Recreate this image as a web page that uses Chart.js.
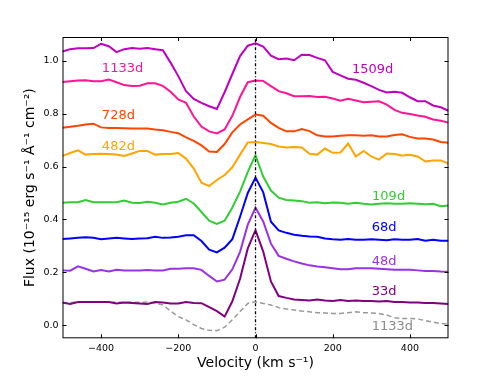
<!DOCTYPE html>
<html>
<head>
    <title>Line profiles</title>
    <script src="https://cdn.jsdelivr.net/npm/chart.js"></script>
    <style>
        body {
            margin: 0;
            background-color: #fff;
        }
        #box {
            width: 498px;
            height: 377px;
        }
    </style>
</head>
<body>
    <div id="box"><canvas id="lineChart" width="498" height="377"></canvas></div>

    <script>
        // velocity grid (km/s)
        var velocity = [-500,-480,-460,-440,-420,-400,-380,-360,-340,-320,-300,-280,-260,-240,-220,-200,-180,-160,-140,-120,-100,-80,-60,-40,-20,0,20,40,60,80,100,120,140,160,180,200,220,240,260,280,300,320,340,360,380,400,420,440,460,480,500];

        // flux of each epoch (offset spectra)
        var flux1509 = [1.035,1.044,1.047,1.047,1.048,1.064,1.055,1.033,1.044,1.048,1.046,1.048,1.044,1.040,0.993,0.942,0.885,0.856,0.841,0.828,0.818,0.881,0.950,1.018,1.057,1.066,1.054,1.019,1.006,1.009,1.002,1.023,1.022,1.011,1.002,0.958,0.945,0.932,0.928,0.917,0.904,0.890,0.880,0.883,0.879,0.862,0.847,0.847,0.831,0.824,0.811];
        var flux1133 = [0.920,0.923,0.925,0.926,0.923,0.923,0.929,0.919,0.908,0.905,0.906,0.915,0.915,0.905,0.883,0.854,0.841,0.789,0.751,0.733,0.725,0.740,0.792,0.863,0.919,0.925,0.924,0.904,0.885,0.877,0.866,0.866,0.867,0.863,0.864,0.857,0.849,0.856,0.850,0.843,0.845,0.847,0.834,0.814,0.803,0.799,0.793,0.788,0.778,0.773,0.766];
        var flux728 = [0.747,0.750,0.754,0.759,0.762,0.748,0.746,0.746,0.745,0.744,0.744,0.744,0.740,0.737,0.731,0.726,0.710,0.697,0.680,0.657,0.655,0.685,0.729,0.759,0.778,0.797,0.792,0.765,0.746,0.733,0.733,0.742,0.734,0.718,0.714,0.714,0.716,0.718,0.718,0.716,0.718,0.714,0.714,0.719,0.722,0.712,0.706,0.706,0.702,0.693,0.690];
        var flux482 = [0.640,0.651,0.661,0.645,0.647,0.648,0.647,0.645,0.640,0.649,0.659,0.659,0.645,0.647,0.647,0.651,0.630,0.592,0.539,0.526,0.549,0.568,0.597,0.645,0.691,0.693,0.689,0.685,0.676,0.672,0.674,0.672,0.648,0.645,0.668,0.652,0.653,0.687,0.638,0.659,0.638,0.626,0.649,0.647,0.642,0.644,0.638,0.619,0.623,0.623,0.611];
        var flux109 = [0.463,0.465,0.465,0.473,0.465,0.465,0.465,0.465,0.471,0.463,0.462,0.467,0.463,0.456,0.463,0.467,0.478,0.460,0.428,0.395,0.383,0.395,0.445,0.505,0.580,0.642,0.562,0.509,0.482,0.473,0.471,0.469,0.463,0.465,0.461,0.464,0.463,0.459,0.463,0.459,0.456,0.459,0.461,0.459,0.459,0.461,0.459,0.457,0.459,0.450,0.452];
        var flux68 = [0.326,0.328,0.330,0.332,0.330,0.325,0.328,0.330,0.328,0.326,0.328,0.329,0.334,0.330,0.331,0.334,0.340,0.340,0.318,0.285,0.275,0.293,0.325,0.410,0.500,0.558,0.502,0.391,0.358,0.349,0.342,0.338,0.335,0.334,0.328,0.325,0.323,0.326,0.323,0.323,0.325,0.323,0.321,0.325,0.323,0.323,0.326,0.319,0.323,0.319,0.319];
        var flux48 = [0.207,0.206,0.222,0.213,0.203,0.208,0.203,0.209,0.207,0.207,0.207,0.208,0.207,0.207,0.213,0.213,0.215,0.215,0.209,0.186,0.165,0.172,0.211,0.277,0.380,0.444,0.392,0.308,0.262,0.251,0.241,0.233,0.226,0.222,0.219,0.215,0.211,0.211,0.215,0.215,0.215,0.213,0.211,0.209,0.209,0.209,0.207,0.205,0.205,0.203,0.202];
        var flux33 = [0.085,0.080,0.087,0.087,0.087,0.087,0.087,0.082,0.085,0.084,0.082,0.080,0.087,0.085,0.082,0.082,0.087,0.084,0.083,0.068,0.053,0.032,0.090,0.175,0.290,0.359,0.278,0.165,0.110,0.103,0.097,0.095,0.093,0.097,0.093,0.091,0.095,0.091,0.093,0.091,0.091,0.089,0.091,0.087,0.087,0.085,0.085,0.084,0.084,0.082,0.080];
        // 1133d profile scaled, plotted under the 33d one
        var flux1133b = [0.085,0.085,0.087,0.087,0.086,0.087,0.087,0.086,0.086,0.087,0.086,0.087,0.084,0.076,0.053,0.032,0.020,0.002,-0.013,-0.020,-0.021,-0.008,0.020,0.051,0.082,0.088,0.082,0.076,0.066,0.061,0.057,0.053,0.050,0.047,0.046,0.044,0.044,0.047,0.050,0.047,0.046,0.044,0.038,0.028,0.025,0.025,0.023,0.017,0.011,0.006,0.003];

        // epoch labels: text, velocity of left edge, flux of centre
        var labelText = ['1509d', '1133d', '728d', '482d', '109d', '68d', '48d', '33d', '1133d'];
        var labelVel = [250, -398, -398, -398, 302, 301, 301, 301, 301];
        var labelFlux = [0.968, 0.972, 0.791, 0.677, 0.487, 0.367, 0.240, 0.126, -0.006];
        var labelColor = ['#bf00bf', '#ff1493', '#ff4500', '#ffa500', '#32cd32', '#0000ff', '#9932e6', '#800080', '#8c8c8c'];

        var xTicks = [-400, -200, 0, 200, 400];
        var yTicks = [0.0, 0.2, 0.4, 0.6, 0.8, 1.0];
        var xMin = -500, xMax = 500, yMin = -0.05, yMax = 1.09;

        var FONT = "'DejaVu Sans', sans-serif";

        function pts(arr) {
            return velocity.map(function (v, i) { return { x: v, y: arr[i] }; });
        }

        function series(arr, color) {
            return {
                data: pts(arr),
                borderColor: color,
                borderWidth: 2,
                pointRadius: 0,
                fill: false,
                tension: 0
            };
        }

        var grey = series(flux1133b, '#999999');
        grey.borderWidth = 1.5;
        grey.borderDash = [5, 3];

        var datasets = [
            {
                // rest velocity marker
                data: [{ x: 0, y: yMin }, { x: 0, y: yMax }],
                borderColor: '#000',
                borderWidth: 1.3,
                borderDash: [3, 2, 1, 2],
                pointRadius: 0
            },
            series(flux33, '#800080'),
            series(flux48, '#9932e6'),
            series(flux68, '#0000ff'),
            series(flux109, '#32cd32'),
            series(flux482, '#ffa500'),
            series(flux728, '#ff4500'),
            series(flux1133, '#ff1493'),
            series(flux1509, '#bf00bf'),
            grey
        ];

        function fmtX(v) {
            return v < 0 ? '\u2212' + Math.abs(v) : String(v);
        }

        // frame, inward ticks on all sides and the epoch labels
        var decorPlugin = {
            id: 'decor',
            afterDraw: function (chart) {
                var ctx = chart.ctx;
                var a = chart.chartArea;
                var xs = chart.scales.x, ys = chart.scales.y;
                var t = 4;
                ctx.save();
                ctx.strokeStyle = '#000';
                ctx.lineWidth = 1;
                ctx.strokeRect(a.left + 0.5, a.top + 0.5, a.right - a.left - 1, a.bottom - a.top - 1);
                ctx.beginPath();
                xTicks.forEach(function (v) {
                    var px = Math.round(xs.getPixelForValue(v)) + 0.5;
                    ctx.moveTo(px, a.bottom); ctx.lineTo(px, a.bottom - t);
                    ctx.moveTo(px, a.top); ctx.lineTo(px, a.top + t);
                });
                yTicks.forEach(function (v) {
                    var py = Math.round(ys.getPixelForValue(v)) + 0.5;
                    ctx.moveTo(a.left, py); ctx.lineTo(a.left + t, py);
                    ctx.moveTo(a.right, py); ctx.lineTo(a.right - t, py);
                });
                ctx.stroke();

                ctx.font = '13px ' + FONT;
                ctx.textAlign = 'left';
                ctx.textBaseline = 'middle';
                for (var i = 0; i < labelText.length; i++) {
                    ctx.fillStyle = labelColor[i];
                    ctx.fillText(labelText[i], xs.getPixelForValue(labelVel[i]), ys.getPixelForValue(labelFlux[i]));
                }
                ctx.restore();
            }
        };

        var ctx = document.getElementById('lineChart').getContext('2d');
        var chart = new Chart(ctx, {
            type: 'line',
            data: { datasets: datasets },
            options: {
                responsive: false,
                animation: false,
                devicePixelRatio: 1,
                layout: { padding: { top: 37, right: 49.5, left: 0, bottom: 0 } },
                plugins: {
                    legend: { display: false },
                    tooltip: { enabled: false }
                },
                scales: {
                    x: {
                        type: 'linear',
                        min: xMin,
                        max: xMax,
                        afterBuildTicks: function (s) {
                            s.ticks = xTicks.map(function (v) { return { value: v }; });
                        },
                        afterFit: function (s) { s.height = 38.7; },
                        grid: { display: false, drawTicks: false },
                        border: { display: false },
                        ticks: {
                            color: '#000',
                            padding: 5,
                            maxRotation: 0,
                            font: { size: 9.5, family: FONT },
                            callback: function (v) { return fmtX(v); }
                        },
                        title: {
                            display: true,
                            text: 'Velocity (km s\u207B\u00B9)',
                            color: '#000',
                            font: { size: 14, family: FONT },
                            padding: { top: 0, bottom: 5.6 }
                        }
                    },
                    y: {
                        type: 'linear',
                        min: yMin,
                        max: yMax,
                        afterBuildTicks: function (s) {
                            s.ticks = yTicks.map(function (v) { return { value: v }; });
                        },
                        afterFit: function (s) { s.width = 62.5; },
                        grid: { display: false, drawTicks: false },
                        border: { display: false },
                        ticks: {
                            color: '#000',
                            padding: 4,
                            font: { size: 9.5, family: FONT },
                            callback: function (v) { return v.toFixed(1); }
                        },
                        title: {
                            display: true,
                            text: 'Flux (10\u207B\u00B9\u2075 erg s\u207B\u00B9 \u00C5\u207B\u00B9 cm\u207B\u00B2)',
                            color: '#000',
                            font: { size: 14, family: FONT },
                            padding: { top: 22, bottom: 0 }
                        }
                    }
                }
            },
            plugins: [decorPlugin]
        });
    </script>
</body>
</html>
